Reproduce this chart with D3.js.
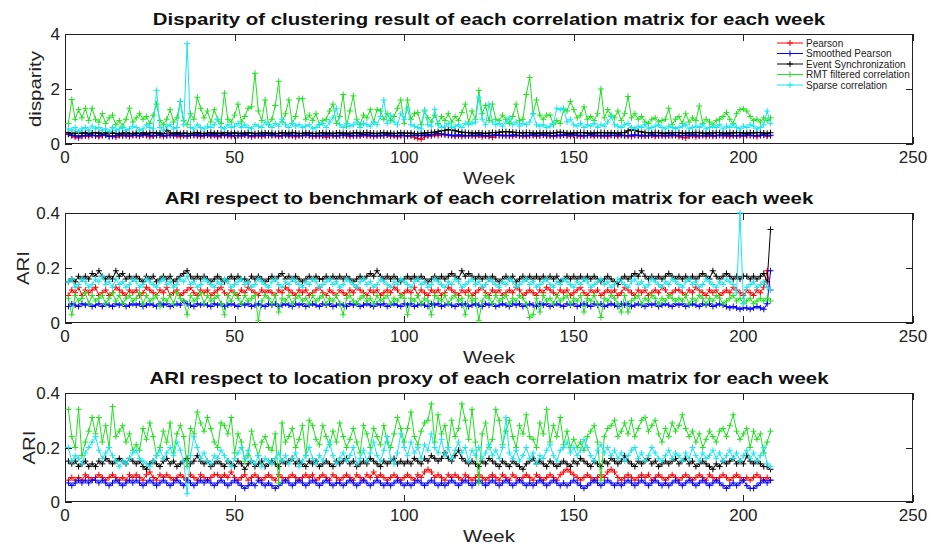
<!DOCTYPE html>
<html><head><meta charset="utf-8">
<script src="https://cdn.jsdelivr.net/npm/d3@7"></script>
<style>body{margin:0;background:#fff}svg{display:block}text{font-family:"Liberation Sans",Arial,Helvetica,sans-serif}</style>
</head><body>
<script>
// ---------- DATA ----------
const seriesNames = ["Pearson","Smoothed Pearson","Event Synchronization","RMT filtered correlation","Sparse correlation"];
const seriesColors = ["#ff0000","#0000ff","#000000","#22e022","#19e6f0"];
const xTicks = [0,50,100,150,200,250];
const panelTitles = ["Disparity of clustering result of each correlation matrix for each week",
  "ARI respect to benchmark of each correlation matrix for each week",
  "ARI respect to location proxy of each correlation matrix for each week"];
const yLabels = ["disparity","ARI","ARI"];
const xLabel = "Week";
const yDomains = [[0,4],[0,0.4],[0,0.4]];
const yTicks1 = [0,2,4];
const yTicks2 = [0,0.2,0.4];
const yTicks3 = [0,0.2,0.4];
const weeks = d3.range(1,209);

// Panel 1: disparity
const disPearson = [.38,.3,.25,.22,.28,.3,.27,.32,.3,.26,.3,.33,.28,.31,.25,.3,.29,.34,.27,.3,
.31,.28,.33,.3,.26,.29,.32,.3,.27,.31,.34,.29,.3,.26,.31,.28,.3,.33,.29,.27,
.3,.32,.28,.31,.26,.3,.34,.29,.27,.31,.3,.28,.33,.3,.26,.29,.31,.27,.3,.32,
.29,.31,.27,.3,.33,.28,.3,.26,.31,.29,.32,.3,.27,.31,.28,.3,.25,.29,.31,.28,
.3,.32,.29,.27,.31,.3,.28,.33,.29,.3,.27,.31,.29,.3,.33,.28,.3,.26,.29,.31,
.28,.3,.25,.2,.17,.26,.3,.29,.32,.3,.34,.33,.31,.3,.28,.3,.27,.31,.29,.3,
.28,.31,.26,.3,.27,.24,.3,.32,.29,.31,.3,.28,.32,.29,.3,.27,.31,.3,.28,.3,
.32,.29,.3,.27,.31,.29,.33,.3,.28,.31,.3,.27,.29,.31,.3,.28,.32,.29,.3,.27,
.31,.3,.28,.32,.3,.29,.27,.31,.3,.28,.3,.29,.31,.27,.3,.32,.28,.3,.29,.31,
.27,.25,.22,.28,.3,.26,.29,.31,.27,.3,.28,.3,.32,.29,.3,.27,.31,.29,.3,.28,
.3,.31,.29,.27,.3,.32,.28,.3];
const disSmoothed = [.35,.32,.3,.28,.3,.31,.33,.32,.3,.31,.33,.32,.27,.28,.31,.33,.32,.3,.31,.33,
.32,.31,.33,.34,.32,.3,.31,.33,.32,.3,.31,.32,.34,.33,.31,.3,.32,.31,.33,.32,
.31,.33,.32,.34,.3,.32,.31,.33,.32,.3,.31,.32,.33,.31,.3,.32,.31,.33,.32,.31,
.33,.32,.31,.3,.32,.33,.31,.32,.3,.31,.33,.32,.31,.3,.32,.31,.33,.32,.31,.3,
.32,.31,.33,.32,.3,.31,.32,.34,.33,.32,.31,.3,.32,.31,.33,.32,.31,.3,.32,.31,
.3,.31,.32,.3,.31,.33,.32,.34,.36,.38,.37,.35,.33,.32,.31,.33,.32,.3,.31,.32,
.31,.33,.32,.3,.31,.32,.33,.31,.32,.3,.31,.33,.32,.31,.3,.32,.31,.33,.32,.31,
.33,.32,.31,.3,.32,.31,.33,.32,.34,.33,.31,.32,.3,.31,.33,.32,.31,.3,.32,.31,
.32,.31,.33,.32,.3,.31,.32,.33,.31,.32,.3,.31,.33,.32,.31,.3,.32,.31,.33,.32,
.31,.3,.32,.31,.33,.32,.3,.31,.32,.33,.31,.3,.32,.31,.33,.32,.31,.3,.32,.31,
.33,.32,.31,.3,.32,.33,.31,.32];
const disEvent = [.42,.4,.38,.4,.39,.41,.38,.4,.42,.39,.4,.41,.38,.4,.39,.37,.4,.41,.39,.38,
.4,.39,.41,.38,.4,.42,.39,.4,.38,.5,.4,.39,.41,.38,.4,.39,.37,.4,.41,.39,
.38,.4,.41,.39,.4,.38,.42,.4,.39,.41,.38,.4,.39,.41,.4,.38,.39,.4,.41,.39,
.4,.38,.39,.41,.4,.39,.42,.4,.38,.39,.41,.4,.39,.38,.4,.41,.39,.4,.38,.4,
.41,.39,.4,.38,.4,.41,.39,.4,.42,.4,.39,.38,.4,.41,.39,.4,.38,.39,.41,.4,
.39,.4,.38,.37,.39,.4,.41,.42,.43,.45,.48,.5,.52,.51,.48,.45,.43,.42,.41,.4,
.39,.41,.4,.38,.4,.42,.41,.43,.44,.45,.44,.43,.42,.41,.4,.42,.41,.4,.39,.41,
.4,.41,.39,.4,.42,.43,.41,.4,.39,.41,.4,.42,.41,.4,.39,.41,.4,.42,.41,.4,
.41,.4,.39,.41,.42,.48,.52,.5,.46,.44,.42,.41,.4,.42,.41,.4,.39,.41,.4,.42,
.41,.4,.39,.41,.4,.42,.41,.4,.39,.41,.4,.42,.41,.4,.39,.41,.4,.42,.41,.4,
.39,.41,.4,.42,.41,.4,.39,.41];
const disRMT = [.75,1.62,.9,1.25,.95,1.3,.85,1.3,.9,.8,1.1,.75,.95,1.05,.7,.85,.65,.9,1.3,.8,
.95,1.1,.9,1.0,.75,1.05,1.45,.85,.7,.9,1.25,.8,.95,1.55,.85,.7,1.1,.9,1.7,1.3,
.95,1.2,.8,1.25,.9,.75,1.85,.9,.8,1.05,1.45,.8,1.0,1.3,1.35,2.57,1.2,.85,1.6,.7,
.9,1.4,2.28,.8,1.1,1.6,.75,1.0,1.65,1.65,.9,1.05,.85,1.1,.7,.85,.9,1.2,1.45,.75,
1.0,1.8,.65,1.2,1.75,.9,.7,1.05,.95,1.25,.8,1.25,1.2,.9,1.1,.85,1.0,1.3,1.6,.75,
1.6,.9,1.1,1.15,.7,1.2,.95,.8,1.05,.75,1.0,.85,1.1,.8,1.0,.85,1.15,1.45,.8,1.2,
.9,1.95,1.1,1.4,.85,1.45,.9,.85,1.05,.9,.75,1.0,1.45,.85,.9,1.8,2.42,1.1,1.6,1.05,
.9,1.05,1.05,.7,.85,.75,1.25,1.2,1.55,1.25,.95,1.05,1.35,.9,1.0,.85,1.1,2.0,.95,1.25,
1.05,.95,1.2,.85,1.1,1.73,.95,1.1,.9,1.0,.8,.75,.9,.95,.8,.85,.9,1.3,.7,.9,
1.0,.75,1.1,.8,.95,.85,1.38,.75,.9,.8,.7,.85,.9,1.0,1.15,.9,.75,1.1,1.25,1.28,
1.2,1.0,.85,.9,.8,.95,.85,.95];
const disSparse = [.55,.5,.6,.45,.55,.6,.5,.65,.55,.6,.5,.55,.45,.6,.5,.55,.6,.5,.55,.65,
.6,.5,.55,.7,.6,.55,1.95,.6,.5,.65,.7,.55,.6,1.55,.7,3.65,.6,.55,.7,.6,
.55,.65,.6,.7,.9,.6,.55,.7,.6,.65,.75,.6,.7,.6,.55,.7,.65,.6,.8,.7,
.6,.75,.65,.9,.7,.6,.75,.65,.7,.6,.65,.7,.55,.6,.7,.75,.6,.8,.95,1.3,
.7,.6,.75,.65,.7,.8,.6,.75,.7,.65,.8,.7,1.0,1.6,.75,1.05,.8,.7,1.1,.9,
1.3,.7,.65,.6,.55,1.24,.7,.65,1.26,.7,.6,.65,.75,.6,.65,.7,.6,.75,.7,.75,
.8,1.7,.9,.7,1.45,.8,.7,.75,.65,.8,.95,.7,.8,.65,.75,.7,.8,1.1,.7,.65,
.7,.6,.65,.75,1.3,1.25,1.3,.8,.9,.7,.65,.75,.6,.7,.65,.75,.6,.7,.65,.8,
1.0,.7,.65,.6,.7,.75,.6,.55,.65,.6,.7,.55,.6,.65,.7,.6,.55,.65,.6,.55,
.6,.65,.7,.55,.6,.65,.6,.7,.55,.6,.65,.6,.7,.55,.65,.6,.7,.6,.55,.65,
.6,.7,.65,.55,.6,.7,1.2,.75];

// Panel 2: ARI vs benchmark
const benPearson = [.1,.12,.11,.13,.1,.12,.11,.12,.13,.1,.11,.12,.1,.11,.13,.12,.11,.1,.12,.11,
.12,.1,.11,.13,.12,.11,.1,.12,.11,.13,.1,.11,.12,.1,.11,.12,.13,.11,.1,.12,
.11,.12,.1,.11,.12,.13,.11,.1,.12,.11,.1,.12,.11,.13,.12,.11,.1,.12,.11,.12,
.11,.1,.12,.11,.13,.12,.11,.1,.12,.11,.12,.1,.11,.12,.13,.11,.1,.12,.11,.1,
.12,.11,.1,.12,.11,.13,.12,.11,.1,.12,.11,.12,.1,.11,.12,.11,.13,.12,.1,.11,
.12,.11,.13,.1,.12,.11,.1,.12,.11,.12,.1,.11,.13,.12,.11,.1,.12,.11,.12,.1,
.11,.12,.13,.11,.1,.12,.11,.12,.1,.11,.12,.11,.13,.12,.1,.11,.12,.11,.1,.12,
.11,.13,.12,.11,.1,.12,.11,.12,.1,.11,.12,.13,.11,.1,.12,.11,.12,.1,.11,.12,
.11,.12,.1,.11,.13,.12,.11,.1,.12,.11,.12,.1,.11,.12,.11,.13,.12,.1,.11,.12,
.12,.11,.1,.12,.11,.13,.12,.11,.1,.12,.11,.12,.1,.11,.12,.11,.13,.12,.11,.1,
.12,.11,.1,.12,.11,.13,.19,.12];
const benSmoothed = [.06,.07,.065,.06,.07,.065,.07,.06,.065,.07,.06,.07,.065,.06,.07,.065,.07,.06,.065,.07,
.065,.07,.06,.065,.07,.065,.06,.07,.065,.07,.06,.065,.07,.065,.08,.07,.065,.06,.07,.065,
.07,.065,.06,.07,.065,.07,.06,.065,.07,.065,.06,.07,.065,.07,.06,.065,.07,.065,.06,.07,
.065,.07,.06,.065,.07,.065,.06,.07,.065,.07,.06,.065,.07,.065,.06,.07,.065,.07,.06,.065,
.07,.065,.06,.07,.065,.07,.06,.065,.07,.065,.06,.07,.065,.07,.06,.065,.07,.065,.06,.07,
.065,.07,.06,.065,.07,.065,.06,.07,.065,.07,.06,.065,.07,.065,.06,.07,.065,.07,.06,.065,
.07,.065,.06,.07,.065,.07,.06,.065,.07,.065,.06,.07,.065,.07,.06,.065,.07,.065,.06,.07,
.065,.07,.06,.065,.07,.065,.06,.07,.065,.07,.06,.065,.07,.065,.06,.07,.065,.07,.06,.065,
.07,.065,.06,.07,.065,.07,.06,.065,.07,.065,.06,.07,.065,.07,.06,.065,.07,.065,.06,.07,
.065,.07,.06,.065,.07,.065,.06,.07,.065,.07,.06,.065,.07,.065,.06,.055,.06,.055,.05,.055,
.055,.05,.055,.06,.055,.05,.07,.19];
const benEvent = [.15,.16,.15,.17,.16,.17,.16,.18,.17,.19,.17,.16,.17,.16,.19,.17,.18,.16,.17,.16,
.17,.16,.15,.17,.16,.17,.15,.16,.17,.16,.17,.15,.16,.17,.18,.19,.17,.16,.17,.16,
.17,.16,.15,.16,.17,.16,.15,.16,.17,.16,.17,.16,.16,.15,.17,.16,.17,.16,.15,.16,
.17,.16,.17,.18,.16,.17,.16,.17,.16,.15,.16,.17,.16,.17,.16,.16,.17,.16,.17,.16,
.17,.16,.17,.16,.15,.16,.17,.16,.17,.18,.17,.19,.17,.16,.17,.16,.17,.16,.15,.16,
.17,.16,.17,.16,.17,.16,.15,.16,.17,.16,.17,.16,.17,.18,.17,.16,.19,.17,.18,.17,
.16,.17,.16,.17,.16,.17,.16,.15,.16,.17,.16,.17,.15,.16,.17,.16,.17,.16,.17,.16,
.17,.16,.17,.16,.17,.15,.16,.17,.16,.17,.16,.17,.16,.17,.16,.17,.16,.15,.16,.17,
.16,.15,.14,.16,.17,.16,.17,.18,.17,.19,.17,.16,.17,.16,.17,.16,.17,.18,.17,.16,
.17,.16,.17,.16,.17,.16,.17,.18,.17,.16,.19,.17,.16,.17,.18,.17,.16,.17,.16,.17,
.17,.16,.17,.16,.17,.18,.15,.34];
const benRMT = [.09,.03,.1,.08,.09,.11,.07,.1,.08,.09,.1,.07,.09,.11,.08,.1,.07,.09,.1,.08,
.09,.11,.07,.1,.08,.09,.1,.06,.09,.08,.1,.07,.11,.09,.08,.03,.1,.08,.09,.11,
.07,.1,.08,.09,.1,.07,.03,.1,.08,.11,.09,.07,.1,.08,.09,.1,.01,.08,.1,.09,
.07,.1,.04,.09,.08,.1,.07,.09,.1,.08,.09,.07,.1,.08,.09,.1,.07,.09,.08,.1,
.07,.03,.09,.1,.08,.07,.09,.1,.08,.09,.07,.1,.08,.09,.1,.07,.09,.08,.1,.09,
.03,.09,.08,.1,.07,.09,.08,.03,.1,.09,.08,.1,.07,.09,.1,.08,.09,.03,.1,.08,
.09,.01,.08,.1,.09,.07,.1,.08,.09,.1,.07,.09,.08,.1,.09,.07,.02,.03,.09,.04,
.1,.08,.09,.07,.1,.08,.09,.1,.07,.09,.08,.1,.04,.09,.08,.1,.07,.02,.09,.08,
.1,.09,.07,.04,.1,.04,.08,.09,.1,.07,.09,.08,.1,.09,.07,.09,.08,.1,.09,.08,
.09,.08,.1,.07,.09,.08,.1,.09,.07,.09,.08,.1,.09,.07,.08,.09,.1,.08,.09,.07,
.08,.09,.07,.08,.09,.08,.09,.08];
const benSparse = [.15,.16,.13,.14,.16,.15,.13,.14,.16,.15,.17,.14,.15,.13,.16,.14,.15,.13,.14,.16,
.15,.13,.14,.16,.15,.14,.13,.15,.16,.14,.15,.13,.14,.16,.15,.17,.14,.15,.13,.14,
.16,.15,.14,.13,.15,.14,.16,.15,.13,.14,.15,.16,.14,.15,.13,.14,.16,.15,.14,.13,
.15,.16,.14,.13,.15,.14,.16,.15,.14,.13,.15,.14,.16,.15,.13,.14,.15,.16,.14,.15,
.13,.14,.16,.15,.14,.13,.15,.16,.14,.15,.13,.14,.16,.15,.14,.13,.15,.14,.16,.15,
.14,.13,.15,.16,.14,.15,.13,.14,.16,.15,.14,.13,.15,.14,.16,.15,.13,.14,.15,.16,
.14,.15,.13,.14,.16,.15,.14,.13,.15,.14,.16,.15,.13,.14,.15,.16,.14,.15,.13,.14,
.15,.16,.14,.13,.15,.14,.16,.15,.14,.13,.15,.14,.16,.15,.13,.14,.15,.16,.14,.15,
.13,.14,.16,.15,.14,.13,.15,.16,.14,.15,.13,.14,.16,.15,.14,.13,.15,.14,.16,.15,
.14,.13,.15,.16,.14,.15,.13,.14,.16,.15,.14,.13,.15,.14,.16,.15,.14,.11,.4,.07,
.13,.14,.15,.13,.14,.15,.13,.12];

// Panel 3: ARI vs location proxy
const locPearson = [.08,.09,.08,.09,.08,.1,.09,.08,.09,.1,.09,.08,.09,.1,.09,.08,.09,.08,.1,.09,
.1,.09,.08,.1,.11,.09,.08,.1,.09,.1,.09,.08,.09,.1,.09,.08,.1,.09,.08,.1,
.09,.08,.09,.1,.1,.09,.1,.09,.11,.09,.08,.09,.1,.08,.09,.1,.09,.08,.09,.1,
.09,.08,.1,.09,.08,.09,.1,.09,.08,.09,.1,.09,.1,.08,.09,.1,.09,.08,.1,.09,
.08,.09,.1,.09,.08,.1,.09,.08,.1,.09,.11,.09,.1,.09,.08,.09,.1,.09,.08,.09,
.1,.09,.08,.1,.09,.11,.12,.11,.09,.1,.09,.08,.1,.09,.1,.09,.08,.1,.09,.08,
.09,.1,.09,.08,.09,.1,.09,.08,.1,.09,.08,.1,.09,.08,.09,.1,.09,.08,.1,.09,
.08,.09,.1,.09,.08,.1,.11,.12,.11,.1,.09,.08,.09,.1,.09,.08,.09,.1,.09,.11,
.12,.11,.09,.08,.09,.1,.09,.08,.09,.1,.09,.1,.08,.09,.1,.09,.08,.09,.1,.09,
.08,.09,.1,.09,.08,.09,.1,.09,.08,.1,.09,.08,.09,.1,.09,.08,.09,.1,.09,.08,
.09,.08,.09,.1,.09,.08,.09,.08];
const locSmoothed = [.07,.06,.07,.08,.07,.08,.07,.08,.08,.07,.08,.07,.06,.07,.08,.07,.06,.07,.08,.07,
.08,.07,.06,.07,.08,.07,.06,.07,.08,.07,.06,.07,.08,.07,.06,.08,.07,.06,.07,.08,
.07,.08,.07,.06,.07,.08,.07,.06,.07,.08,.07,.06,.05,.06,.07,.06,.08,.07,.06,.07,
.06,.05,.06,.07,.08,.07,.06,.07,.08,.07,.06,.07,.08,.07,.06,.07,.08,.07,.06,.07,
.07,.06,.07,.08,.07,.06,.07,.08,.07,.06,.07,.08,.07,.06,.07,.06,.07,.08,.07,.06,
.07,.06,.07,.08,.07,.06,.07,.08,.07,.06,.07,.06,.07,.08,.07,.06,.07,.08,.07,.06,
.07,.08,.07,.06,.07,.08,.07,.06,.07,.08,.07,.06,.07,.08,.07,.06,.07,.06,.07,.08,
.07,.06,.07,.08,.07,.06,.07,.06,.07,.08,.07,.06,.05,.06,.07,.08,.07,.06,.07,.08,
.07,.06,.07,.06,.07,.08,.07,.06,.07,.08,.07,.06,.07,.08,.07,.06,.07,.06,.07,.08,
.07,.06,.07,.08,.07,.06,.07,.08,.07,.06,.07,.08,.07,.06,.05,.06,.07,.06,.07,.08,
.06,.05,.05,.06,.07,.08,.07,.08];
const locEvent = [.15,.14,.15,.13,.14,.15,.13,.14,.13,.15,.14,.16,.15,.14,.15,.16,.15,.14,.16,.15,
.14,.15,.13,.12,.14,.15,.14,.13,.15,.16,.14,.15,.13,.14,.15,.16,.14,.15,.17,.15,
.14,.15,.13,.14,.15,.14,.13,.15,.14,.13,.15,.14,.12,.14,.15,.13,.14,.15,.13,.14,
.15,.14,.13,.15,.14,.15,.16,.14,.15,.14,.13,.15,.14,.15,.13,.14,.15,.14,.13,.15,
.14,.15,.16,.14,.15,.13,.14,.15,.14,.16,.15,.14,.13,.15,.14,.15,.16,.14,.15,.14,
.15,.14,.16,.15,.14,.16,.15,.17,.16,.15,.16,.18,.16,.15,.17,.19,.16,.15,.14,.15,
.14,.13,.15,.14,.16,.15,.14,.13,.15,.14,.13,.15,.14,.13,.12,.14,.15,.16,.14,.15,
.14,.13,.15,.14,.13,.14,.15,.14,.13,.15,.14,.16,.15,.14,.13,.15,.14,.13,.15,.14,
.16,.15,.14,.15,.17,.15,.14,.13,.15,.14,.15,.16,.14,.15,.13,.14,.15,.14,.15,.16,
.14,.15,.16,.14,.15,.13,.14,.15,.14,.13,.12,.14,.13,.15,.14,.15,.16,.14,.15,.14,
.17,.15,.14,.15,.14,.13,.13,.12];
const locRMT = [.34,.24,.2,.34,.17,.22,.26,.31,.25,.31,.22,.28,.2,.35,.24,.26,.28,.22,.25,.19,
.21,.19,.27,.23,.29,.24,.17,.2,.26,.22,.29,.18,.25,.28,.24,.13,.27,.25,.33,.29,
.26,.31,.27,.22,.2,.29,.28,.25,.31,.18,.25,.22,.15,.17,.26,.21,.17,.22,.24,.2,
.19,.25,.07,.29,.22,.24,.27,.2,.23,.28,.17,.3,.28,.23,.21,.28,.24,.21,.26,.22,
.29,.24,.2,.23,.27,.22,.18,.28,.25,.2,.27,.24,.21,.28,.22,.2,.25,.31,.27,.22,
.27,.33,.24,.21,.26,.29,.3,.36,.22,.32,.25,.28,.2,.3,.24,.27,.36,.3,.23,.34,
.22,.07,.25,.29,.2,.23,.34,.3,.21,.26,.3,.24,.2,.28,.25,.32,.24,.23,.2,.29,
.25,.34,.22,.28,.24,.31,.21,.26,.2,.23,.2,.22,.19,.24,.26,.28,.22,.08,.24,.27,
.28,.3,.24,.26,.29,.25,.3,.24,.27,.3,.31,.26,.28,.3,.25,.22,.27,.24,.29,.26,
.28,.32,.27,.24,.26,.22,.25,.2,.23,.26,.24,.22,.26,.27,.24,.28,.32,.26,.23,.25,
.27,.2,.26,.23,.25,.18,.22,.26];
const locSparse = [.2,.15,.17,.16,.14,.18,.2,.22,.24,.19,.16,.18,.2,.17,.15,.13,.15,.14,.16,.18,
.19,.16,.15,.14,.13,.15,.17,.19,.16,.18,.2,.17,.22,.19,.15,.03,.17,.24,.2,.16,
.18,.15,.14,.17,.16,.19,.17,.15,.13,.16,.18,.2,.16,.19,.15,.14,.17,.13,.16,.15,
.14,.16,.18,.15,.17,.14,.16,.18,.13,.15,.17,.2,.16,.14,.17,.15,.19,.22,.17,.14,
.16,.18,.15,.17,.2,.14,.16,.19,.15,.18,.22,.17,.15,.19,.24,.16,.14,.18,.25,.2,
.17,.22,.18,.2,.16,.21,.19,.25,.2,.18,.23,.17,.2,.16,.19,.22,.18,.2,.15,.19,
.17,.2,.16,.18,.21,.17,.19,.16,.2,.31,.18,.16,.19,.15,.17,.2,.16,.18,.14,.17,
.16,.19,.21,.17,.15,.19,.2,.22,.18,.2,.17,.19,.23,.2,.17,.15,.19,.21,.18,.2,
.17,.19,.16,.18,.15,.17,.19,.2,.16,.18,.15,.17,.2,.18,.16,.15,.17,.19,.16,.18,
.17,.15,.18,.16,.2,.17,.15,.18,.16,.17,.19,.16,.18,.15,.17,.19,.16,.18,.15,.17,
.19,.16,.18,.15,.17,.2,.14,.13];

// ---------- DRAW ----------
const W = 931, H = 548;
const panels = [
  {title: panelTitles[0], ylab: yLabels[0], dom: yDomains[0], ticks: yTicks1, top: 34, bottom: 144, ylx: 40.5,
   series: [disPearson, disSmoothed, disEvent, disRMT, disSparse], legend: true},
  {title: panelTitles[1], ylab: yLabels[1], dom: yDomains[1], ticks: yTicks2, top: 213, bottom: 323, ylx: 29,
   series: [benPearson, benSmoothed, benEvent, benRMT, benSparse]},
  {title: panelTitles[2], ylab: yLabels[2], dom: yDomains[2], ticks: yTicks3, top: 393, bottom: 502, ylx: 35,
   series: [locPearson, locSmoothed, locEvent, locRMT, locSparse]}
];
const left = 65, right = 913;
const svg = d3.select("body").append("svg").attr("width", W).attr("height", H);
svg.append("rect").attr("width", W).attr("height", H).attr("fill", "#fff");
const x = d3.scaleLinear().domain([0,250]).range([left, right]);
const TL = 7, MS = 3, STRETCH = 1.2;
const fmt = v => String(v);
function stretch(sel) {
  const n = sel.node().getComputedTextLength();
  sel.attr("textLength", n * STRETCH).attr("lengthAdjust", "spacingAndGlyphs");
}

panels.forEach((p, pi) => {
  const y = d3.scaleLinear().domain(p.dom).range([p.bottom, p.top]);
  const g = svg.append("g");
  const clipId = "clip" + pi;
  svg.append("clipPath").attr("id", clipId).append("rect")
    .attr("x", left).attr("y", p.top - 4).attr("width", right - left).attr("height", p.bottom - p.top + 8);
  g.append("rect").attr("x", left + 0.5).attr("y", p.top + 0.5).attr("width", right - left - 1)
    .attr("height", p.bottom - p.top - 1).attr("fill", "none").attr("stroke", "#222").attr("stroke-width", 1);
  xTicks.forEach(t => {
    const xx = Math.round(x(t)) + 0.5;
    g.append("line").attr("x1", xx).attr("x2", xx).attr("y1", p.bottom).attr("y2", p.bottom - TL).attr("stroke", "#222");
    g.append("line").attr("x1", xx).attr("x2", xx).attr("y1", p.top).attr("y2", p.top + TL).attr("stroke", "#222");
    g.append("text").attr("x", x(t)).attr("y", p.bottom + 19).attr("text-anchor", "middle")
      .attr("font-size", 17).attr("fill", "#222").text(fmt(t));
  });
  p.ticks.forEach(t => {
    const yy = Math.round(y(t)) + 0.5;
    g.append("line").attr("x1", left).attr("x2", left + TL).attr("y1", yy).attr("y2", yy).attr("stroke", "#222");
    g.append("line").attr("x1", right).attr("x2", right - TL).attr("y1", yy).attr("y2", yy).attr("stroke", "#222");
    g.append("text").attr("x", left - 5).attr("y", y(t) + 6).attr("text-anchor", "end")
      .attr("font-size", 17).attr("fill", "#222").text(fmt(t));
  });
  const tt = g.append("text").attr("x", (left + right) / 2).attr("y", p.top - 9).attr("text-anchor", "middle")
    .attr("font-size", 17).attr("font-weight", "bold").attr("fill", "#111").text(p.title);
  stretch(tt);
  const xl = g.append("text").attr("x", (left + right) / 2).attr("y", p.bottom + 40).attr("text-anchor", "middle")
    .attr("font-size", 17).attr("fill", "#222").text(xLabel);
  stretch(xl);
  const yl = g.append("text").attr("transform", `translate(${p.ylx},${(p.top + p.bottom) / 2}) rotate(-90)`)
    .attr("text-anchor", "middle").attr("font-size", 17).attr("fill", "#222").text(p.ylab);
  stretch(yl);
  const plot = svg.append("g").attr("clip-path", `url(#${clipId})`);
  p.series.forEach((vals, si) => {
    const pts = weeks.map((w, i) => [x(w), y(vals[i])]);
    plot.append("path").attr("d", d3.line()(pts)).attr("fill", "none")
      .attr("stroke", seriesColors[si]).attr("stroke-width", 1);
    const mk = pts.map(([a, b]) => `M${a - MS},${b}h${2 * MS}M${a},${b - MS}v${2 * MS}`).join("");
    plot.append("path").attr("d", mk).attr("fill", "none").attr("stroke", seriesColors[si]).attr("stroke-width", 1);
  });
  if (p.legend) {
    const lg = svg.append("g");
    seriesNames.forEach((n, i) => {
      const ly = 43 + i * 10.5;
      lg.append("line").attr("x1", 777).attr("x2", 803).attr("y1", ly).attr("y2", ly).attr("stroke", seriesColors[i]);
      lg.append("path").attr("d", `M${790 - MS},${ly}h${2 * MS}M790,${ly - MS}v${2 * MS}`).attr("stroke", seriesColors[i]);
      lg.append("text").attr("x", 806).attr("y", ly + 3.5).attr("font-size", 10).attr("fill", "#222").text(n);
    });
  }
});
</script>
</body></html>
